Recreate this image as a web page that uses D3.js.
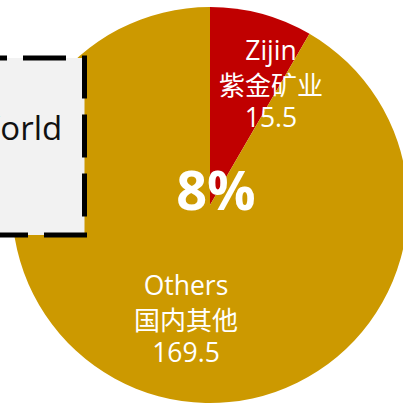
<!DOCTYPE html>
<html>
<head>
<meta charset="utf-8">
<script src="https://cdn.jsdelivr.net/npm/d3@7"></script>
<style>
  body { margin: 0; background: #fff; }
  svg { display: block; }
  text { font-family: "Open Sans", "Noto Sans", sans-serif; }
</style>
</head>
<body>
<div id="chart"></div>
<script>
// data
const names = ["Zijin", "Others"];
const namesCn = ["紫金矿业", "国内其他"];
const values = [15.5, 169.5];
const colors = ["#c00000", "#cc9900"];
const boxLabel = "World";

const width = 403;
const height = 405;
const cx = 210, cy = 205, radius = 198;

let svg = d3.select("#chart")
            .append("svg")
                .attr("width", width)
                .attr("height", height)

let g = svg.append("g")
            .attr("transform", `translate(${cx}, ${cy})`)

let pie = d3.pie().sort(null).value(d => d)
let arcs = pie(values)
let arc = d3.arc().innerRadius(0).outerRadius(radius)

g.selectAll("path")
    .data(arcs)
    .enter()
    .append("path")
        .attr("d", arc)
        .attr("fill", (d, i) => colors[i])

// label spots, relative to centre
const labelPos = [[61, -145], [-24, 90]]
const lineGap = [0, 35, 67]

arcs.forEach((d, i) => {
    let t = g.append("text")
        .attr("text-anchor", "middle")
        .attr("fill", "#fff")
        .attr("transform", `translate(${labelPos[i][0]}, ${labelPos[i][1]})`)
    t.append("tspan").attr("x", 0).attr("y", lineGap[0])
        .attr("font-size", 26.5).text(names[i])
    t.append("tspan").attr("x", 0).attr("y", lineGap[1])
        .attr("font-size", 26).style("font-family", "'Noto Sans CJK SC', sans-serif")
        .text(namesCn[i])
    t.append("tspan").attr("x", 0).attr("y", lineGap[2])
        .attr("font-size", 26.5).text(values[i])
})

// share of first slice
let total = d3.sum(values)
g.append("text")
    .attr("x", 6)
    .attr("y", 5)
    .attr("text-anchor", "middle")
    .attr("fill", "#fff")
    .attr("font-size", 54)
    .attr("font-weight", "bold")
    .text(d3.format(".0%")(values[0] / total))

// dashed box on the left
let box = svg.append("g")
box.append("rect")
    .attr("x", -55)
    .attr("y", 58)
    .attr("width", 139.5)
    .attr("height", 177)
    .attr("fill", "#f2f2f2")
    .attr("stroke", "#000")
    .attr("stroke-width", 5)
    .attr("stroke-dasharray", "43,16")
    .attr("stroke-dashoffset", 40)
box.append("text")
    .attr("x", 16)
    .attr("y", 140)
    .attr("text-anchor", "middle")
    .attr("font-size", 33)
    .attr("fill", "#111")
    .text(boxLabel)
</script>
</body>
</html>
